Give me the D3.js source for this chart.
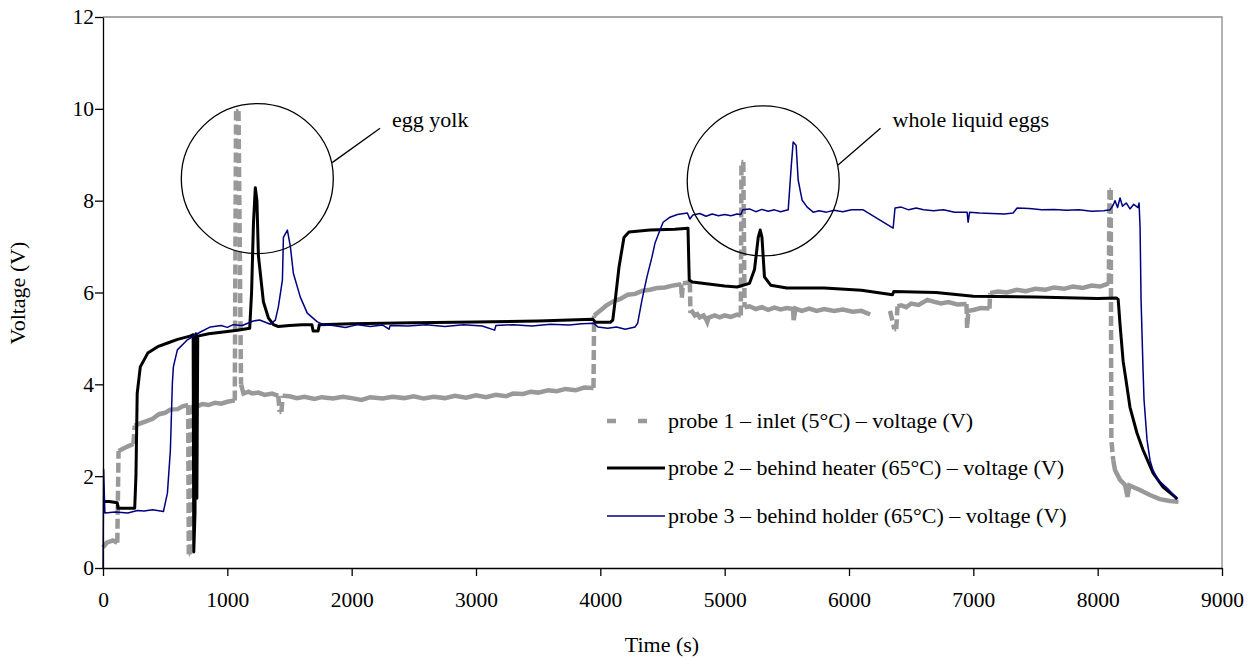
<!DOCTYPE html>
<html><head><meta charset="utf-8">
<script src="https://cdn.jsdelivr.net/npm/d3@7"></script>
<style>
html,body{margin:0;padding:0;background:#fff;}
svg text{font-family:"Liberation Serif","Times New Roman",serif;fill:#000;}
</style></head>
<body><svg id="chart" width="1255" height="659"></svg>
<script>
// ---------- data ----------
const xTicks = [0,1000,2000,3000,4000,5000,6000,7000,8000,9000];
const yTicks = [0,2,4,6,8,10,12];
const seriesNames = [
  "probe 1 \u2013 inlet (5\u00B0C) \u2013 voltage (V)",
  "probe 2 \u2013 behind heater (65\u00B0C) \u2013 voltage (V)",
  "probe 3 \u2013 behind holder (65\u00B0C) \u2013 voltage (V)"
];
// [time (s), voltage (V)]; null voltage = gap
const probe1 = [[0,0.45],[30,0.55],[80,0.6],[115,0.55],[125,2.55],[200,2.65],[245,2.7],[255,3.1],[300,3.15],[350,3.2],[400,3.25],[450,3.35],[500,3.38],[540,3.45],[600,3.46],[640,3.52],[685,3.55],[690,0.3],[700,0.3],[705,3.5],[760,3.52],[800,3.57],[850,3.55],[900,3.6],[950,3.58],[1000,3.62],[1060,3.65],[1070,9.95],[1090,9.95],[1110,4.0],[1130,3.8],[1170,3.84],[1200,3.8],[1250,3.82],[1300,3.77],[1360,3.8],[1410,3.75],[1420,3.4],[1435,3.4],[1445,3.75],[1500,3.74],[1560,3.7],[1620,3.73],[1700,3.68],[1760,3.72],[1850,3.69],[1930,3.73],[2000,3.7],[2080,3.66],[2150,3.72],[2250,3.69],[2330,3.73],[2420,3.7],[2500,3.74],[2580,3.69],[2660,3.73],[2750,3.7],[2830,3.75],[2920,3.71],[3000,3.76],[3080,3.72],[3160,3.77],[3240,3.74],[3300,3.8],[3380,3.79],[3440,3.84],[3500,3.82],[3580,3.87],[3650,3.85],[3720,3.9],[3800,3.87],[3870,3.93],[3945,3.92],[3950,5.5],[4020,5.65],[4050,5.72],[4100,5.8],[4160,5.86],[4220,5.95],[4280,5.97],[4340,6.04],[4400,6.06],[4460,6.1],[4520,6.11],[4580,6.15],[4650,6.18],[4655,5.88],[4665,6.2],[4720,6.22],[4725,5.55],[4740,5.58],[4760,5.5],[4780,5.53],[4800,5.46],[4830,5.5],[4850,5.42],[4860,5.36],[4870,5.45],[4920,5.5],[4960,5.46],[5000,5.5],[5050,5.47],[5100,5.52],[5130,5.5],[5135,8.84],[5150,8.84],[5160,5.68],[5200,5.7],[5250,5.64],[5300,5.68],[5350,5.62],[5400,5.67],[5450,5.63],[5500,5.66],[5550,5.64],[5555,5.4],[5570,5.65],[5620,5.6],[5680,5.65],[5740,5.6],[5800,5.64],[5880,5.6],[5950,5.63],[6030,5.58],[6100,5.6],[6170,5.52],[6250,null],[6330,5.6],[6365,5.2],[6380,5.2],[6390,5.7],[6420,5.72],[6460,5.68],[6500,5.76],[6560,5.73],[6630,5.84],[6680,5.8],[6740,5.76],[6800,5.79],[6870,5.74],[6945,5.75],[6950,5.23],[6960,5.6],[7000,5.62],[7060,5.66],[7130,5.65],[7135,5.99],[7200,6.02],[7270,6.0],[7350,6.06],[7420,6.03],[7500,6.08],[7580,6.06],[7650,6.11],[7730,6.08],[7800,6.13],[7880,6.1],[7950,6.15],[8020,6.13],[8090,6.2],[8095,8.23],[8105,8.23],[8110,2.79],[8125,2.35],[8140,2.13],[8180,1.92],[8220,1.81],[8240,1.55],[8255,1.8],[8340,1.7],[8420,1.59],[8500,1.5],[8580,1.46],[8650,1.44]];
const probe2 = [[0,1.45],[50,1.45],[115,1.42],[120,1.3],[200,1.3],[255,1.3],[265,2.0],[275,3.8],[300,4.38],[360,4.68],[440,4.82],[520,4.9],[600,4.98],[700,5.05],[725,5.08],[730,0.35],[740,1.2],[748,5.1],[755,1.52],[762,5.05],[850,5.1],[1000,5.15],[1080,5.18],[1180,5.22],[1195,6.0],[1210,7.5],[1225,8.28],[1238,8.0],[1250,6.8],[1290,5.8],[1330,5.45],[1370,5.3],[1410,5.26],[1500,5.28],[1600,5.3],[1680,5.3],[1690,5.16],[1730,5.16],[1740,5.3],[2000,5.32],[2500,5.34],[3000,5.36],[3500,5.38],[3940,5.42],[3960,5.35],[4080,5.35],[4100,5.4],[4120,5.84],[4150,6.55],[4190,7.2],[4230,7.32],[4400,7.36],[4600,7.38],[4705,7.4],[4715,6.27],[4740,6.23],[5000,6.14],[5100,6.12],[5200,6.2],[5240,6.5],[5270,7.2],[5286,7.36],[5300,7.2],[5320,6.34],[5370,6.16],[5500,6.1],[5800,6.1],[6100,6.05],[6350,5.95],[6360,6.02],[6700,6.0],[7000,5.92],[7500,5.9],[8000,5.87],[8150,5.88],[8165,5.85],[8180,5.3],[8205,4.5],[8228,4.09],[8260,3.5],[8316,2.94],[8365,2.57],[8445,2.07],[8526,1.76],[8622,1.55],[8640,1.5]];
const probe3 = [[0,0.0],[5,2.15],[15,1.2],[100,1.22],[200,1.2],[277,1.25],[330,1.24],[400,1.27],[486,1.23],[518,1.63],[542,2.57],[558,4.03],[566,4.38],[598,4.75],[679,4.97],[783,5.14],[864,5.25],[950,5.28],[1000,5.24],[1048,5.3],[1120,5.28],[1209,5.38],[1260,5.4],[1346,5.31],[1386,5.4],[1410,5.68],[1443,6.27],[1451,7.2],[1483,7.36],[1507,7.0],[1531,6.42],[1587,5.9],[1643,5.55],[1724,5.36],[1773,5.3],[1850,5.28],[1950,5.24],[2050,5.3],[2150,5.26],[2250,5.29],[2300,5.2],[2310,5.28],[2450,5.27],[2600,5.3],[2750,5.26],[2900,5.3],[3050,5.27],[3150,5.18],[3160,5.28],[3300,5.3],[3450,5.27],[3600,5.31],[3750,5.29],[3850,5.32],[3945,5.33],[3980,5.25],[4060,5.22],[4130,5.25],[4200,5.2],[4280,5.25],[4300,5.33],[4335,5.84],[4375,6.34],[4415,6.77],[4440,7.08],[4480,7.36],[4505,7.53],[4560,7.64],[4620,7.7],[4700,7.73],[4720,7.6],[4745,7.69],[4800,7.72],[4850,7.66],[4900,7.71],[4950,7.67],[5000,7.7],[5050,7.67],[5100,7.71],[5130,7.7],[5145,7.8],[5200,7.82],[5250,7.76],[5300,7.81],[5350,7.77],[5400,7.8],[5450,7.76],[5511,7.8],[5535,8.73],[5551,9.28],[5575,9.2],[5591,8.45],[5623,8.01],[5664,7.86],[5712,7.75],[5760,7.78],[5820,7.75],[5880,7.79],[5950,7.76],[6020,7.8],[6114,7.8],[6355,7.4],[6370,7.84],[6420,7.86],[6480,7.8],[6540,7.84],[6600,7.8],[6680,7.78],[6760,7.8],[6850,7.75],[6950,7.75],[6958,7.53],[6970,7.75],[7050,7.73],[7150,7.72],[7250,7.71],[7320,7.73],[7352,7.84],[7450,7.83],[7550,7.8],[7650,7.81],[7750,7.79],[7850,7.8],[7950,7.77],[8050,7.78],[8100,7.8],[8124,7.9],[8140,8.0],[8160,7.85],[8180,8.06],[8200,7.88],[8230,7.95],[8260,7.82],[8290,7.92],[8325,7.85],[8333,7.95],[8341,7.42],[8349,5.84],[8365,4.31],[8373,3.66],[8397,2.79],[8421,2.35],[8445,2.13],[8485,1.92],[8558,1.74],[8638,1.52]];
// annotations: label, circle centre [time, voltage], label anchor [time, voltage]
const annLabels = ["egg yolk","whole liquid eggs"];
const annCentres = [[1241,8.48],[5310,8.43]];
const annTexts = [[2325,9.75],[6350,9.75]];

// ---------- layout ----------
const svg = d3.select("#chart");
const x = d3.scaleLinear().domain([0,9000]).range([103,1222]);
const y = d3.scaleLinear().domain([0,12]).range([568,17]);
const FS = 22, TFS = 21.5;

// frame (top/right grey)
svg.append("path").attr("d",`M${x(0)},${y(12)}H${x(9000)}V${y(0)}`)
  .attr("fill","none").attr("stroke","#8c8c8c").attr("stroke-width",1.3);

const line = d3.line().defined(d=>d[1]!==null).x(d=>x(d[0])).y(d=>y(d[1]));

// probe 1: steep pieces dashed, flat pieces solid
function drawProbe1(data){
  const g = svg.append("g");
  let run=[], runSteep=null;
  const flush=()=>{ if(run.length>1){
      g.append("path").attr("d",line(run)).attr("fill","none")
       .attr("stroke","#999999").attr("stroke-width",4.5)
       .attr("stroke-dasharray",runSteep?"10,4":null);
    } };
  for(let i=0;i<data.length-1;i++){
    const a=data[i], b=data[i+1];
    if(a[1]===null||b[1]===null){ flush(); run=[]; runSteep=null; continue; }
    const dx=Math.abs(x(b[0])-x(a[0])), dy=Math.abs(y(b[1])-y(a[1]));
    const steep = dy>2*dx && dy>12;
    if(runSteep===null||steep!==runSteep){ flush(); run=[a]; runSteep=steep; }
    run.push(b);
  }
  flush();
}
drawProbe1(probe1);
svg.append("path").datum(probe2).attr("d",line).attr("fill","none")
  .attr("stroke","#000").attr("stroke-width",3).attr("stroke-linejoin","round");
svg.append("path").datum(probe3).attr("d",line).attr("fill","none")
  .attr("stroke","#000080").attr("stroke-width",1.5).attr("stroke-linejoin","round");

// axes
const xAxis = svg.append("g").attr("transform",`translate(0,${y(0)})`)
  .call(d3.axisBottom(x).tickValues(xTicks).tickSize(8).tickSizeOuter(0).tickPadding(16).tickFormat(d3.format("d")));
const yAxis = svg.append("g").attr("transform",`translate(${x(0)},0)`)
  .call(d3.axisLeft(y).tickValues(yTicks).tickSize(8).tickSizeOuter(0).tickPadding(1).tickFormat(d3.format("d")));
[xAxis,yAxis].forEach(a=>{
  a.select(".domain").attr("stroke","#000").attr("stroke-width",1.3);
  a.selectAll(".tick line").attr("stroke","#000").attr("stroke-width",1.3);
  a.selectAll("text").attr("font-family","Liberation Serif").attr("font-size",TFS).attr("fill","#000");
});

svg.append("text").attr("x",662).attr("y",652).attr("text-anchor","middle")
  .attr("font-size",FS).text("Time (s)");
svg.append("text").attr("transform","translate(25,293) rotate(-90)").attr("text-anchor","middle")
  .attr("font-size",FS).text("Voltage (V)");

// legend
const legY = [421,468,516];
const legStyles = [
  {stroke:"#999999",w:4.5,dash:"9,22"},
  {stroke:"#000",w:3,dash:null},
  {stroke:"#000080",w:1.5,dash:null}
];
seriesNames.forEach((n,i)=>{
  svg.append("line").attr("x1",607).attr("x2",i===0?668:665).attr("y1",legY[i]).attr("y2",legY[i])
    .attr("stroke",legStyles[i].stroke).attr("stroke-width",legStyles[i].w)
    .attr("stroke-dasharray",legStyles[i].dash);
  svg.append("text").attr("x",668).attr("y",legY[i]).attr("dy","0.32em")
    .attr("font-size",FS).text(n);
});

// annotations
annLabels.forEach((lab,i)=>{
  const cx=x(annCentres[i][0]), cy=y(annCentres[i][1]);
  const r=76;
  svg.append("ellipse").attr("cx",cx).attr("cy",cy).attr("rx",r).attr("ry",r-1)
    .attr("fill","none").attr("stroke","#000").attr("stroke-width",1.3);
  const tx=x(annTexts[i][0]), ty=y(annTexts[i][1]);
  svg.append("line").attr("x1",cx+r*0.985).attr("y1",cy-16).attr("x2",tx-12).attr("y2",ty+8)
    .attr("stroke","#000").attr("stroke-width",1.3);
  svg.append("text").attr("x",tx).attr("y",ty).attr("dy","0.32em").attr("font-size",FS).text(lab);
});
</script></body></html>
